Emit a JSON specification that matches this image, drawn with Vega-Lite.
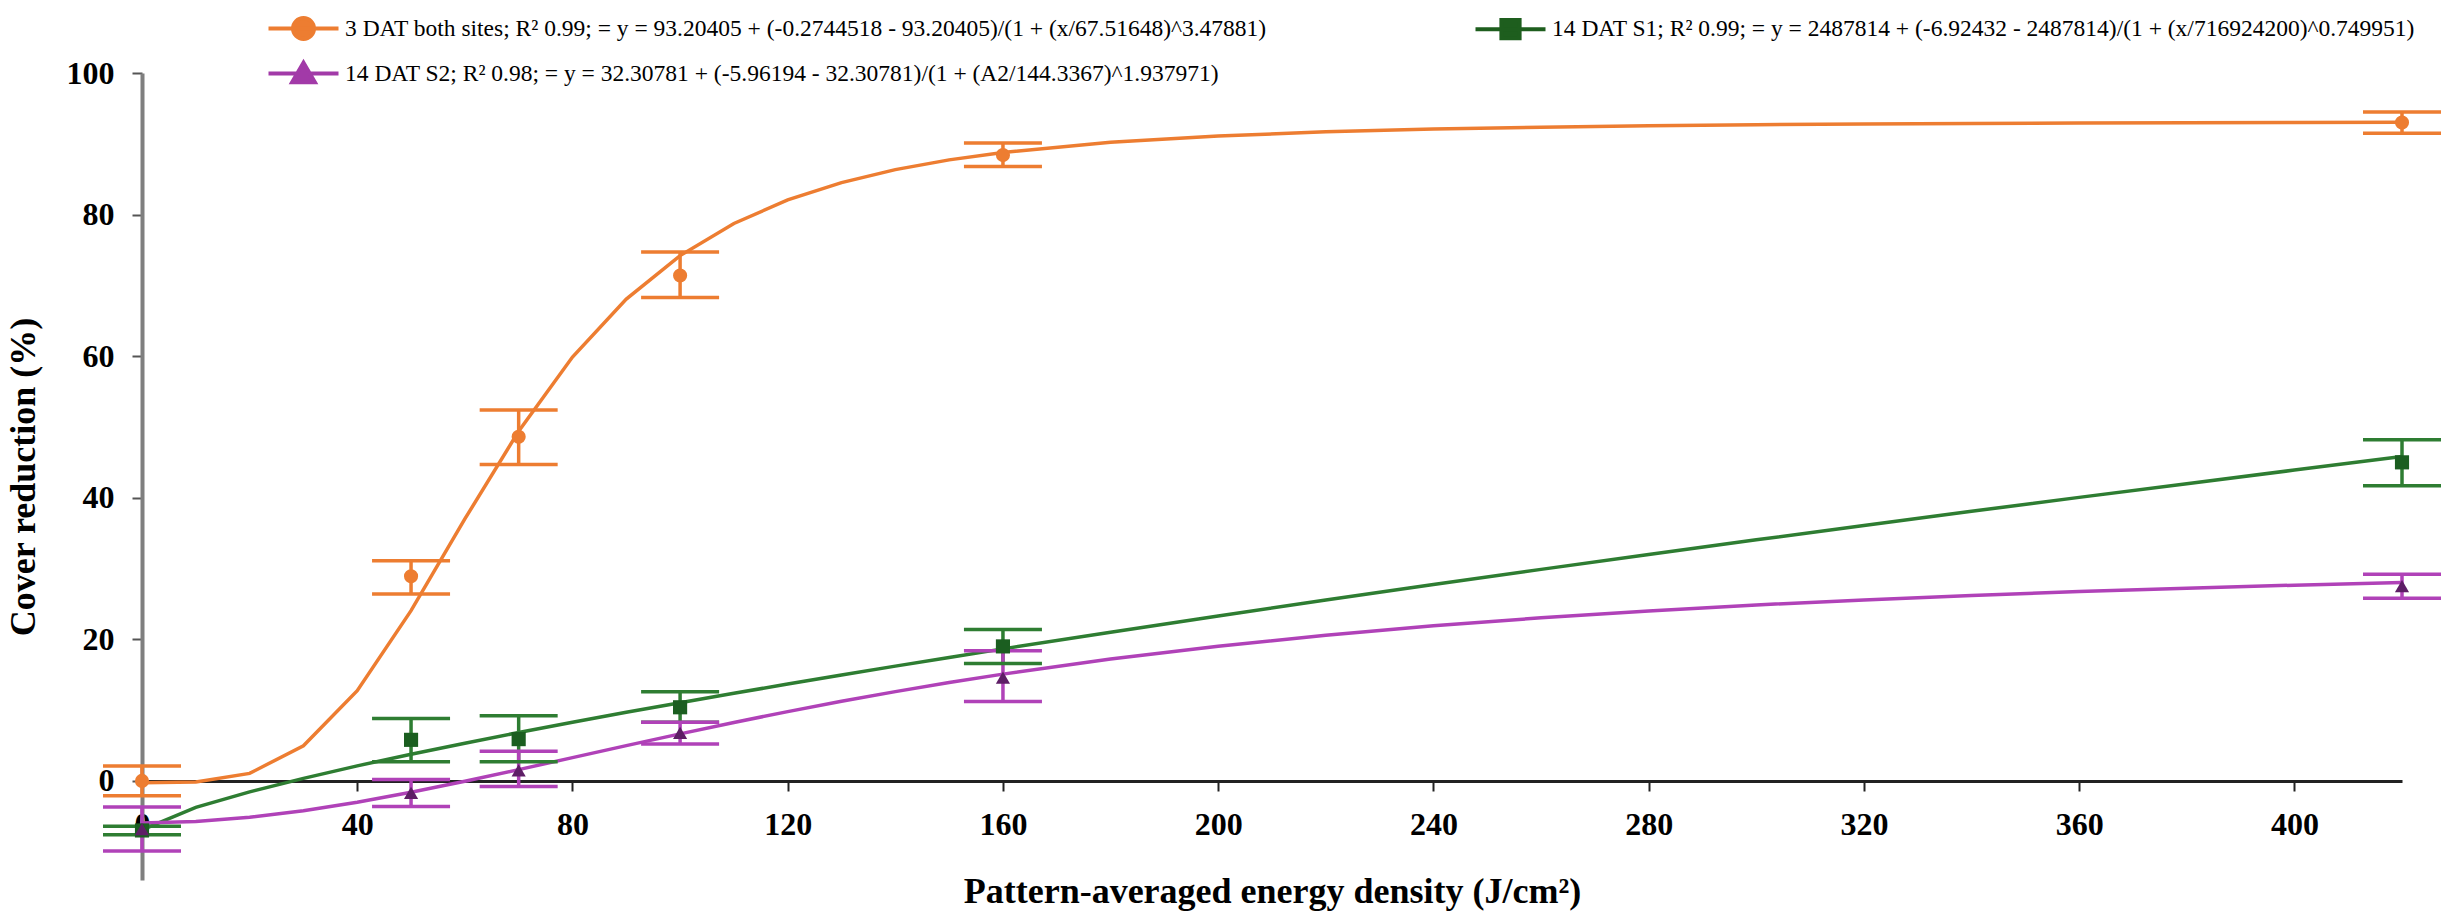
{
  "$schema": "https://vega.github.io/schema/vega-lite/v6.json",
  "width": 2260,
  "height": 807,
  "autosize": "none",
  "padding": {"left": 142, "top": 73, "right": 48, "bottom": 39},
  "background": "white",
  "datasets": {
    "points": [
      {"series": "3 DAT both sites", "x": 0, "y": 0, "lo": -2.1, "hi": 2.1},
      {"series": "3 DAT both sites", "x": 50, "y": 28.9, "lo": 26.4, "hi": 31.1},
      {"series": "3 DAT both sites", "x": 70, "y": 48.6, "lo": 44.7, "hi": 52.4},
      {"series": "3 DAT both sites", "x": 100, "y": 71.4, "lo": 68.3, "hi": 74.7},
      {"series": "3 DAT both sites", "x": 160, "y": 88.4, "lo": 86.8, "hi": 90.1},
      {"series": "3 DAT both sites", "x": 420, "y": 93.0, "lo": 91.5, "hi": 94.5},
      {"series": "14 DAT S1", "x": 0, "y": -7.0, "lo": -7.6, "hi": -6.4},
      {"series": "14 DAT S1", "x": 50, "y": 5.8, "lo": 2.7, "hi": 8.8},
      {"series": "14 DAT S1", "x": 70, "y": 5.9, "lo": 2.7, "hi": 9.2},
      {"series": "14 DAT S1", "x": 100, "y": 10.4, "lo": 8.3, "hi": 12.6},
      {"series": "14 DAT S1", "x": 160, "y": 19.0, "lo": 16.6, "hi": 21.4},
      {"series": "14 DAT S1", "x": 420, "y": 45.0, "lo": 41.7, "hi": 48.2},
      {"series": "14 DAT S2", "x": 0, "y": -6.8, "lo": -9.9, "hi": -3.7},
      {"series": "14 DAT S2", "x": 50, "y": -1.7, "lo": -3.6, "hi": 0.2},
      {"series": "14 DAT S2", "x": 70, "y": 1.5, "lo": -0.8, "hi": 4.2},
      {"series": "14 DAT S2", "x": 100, "y": 6.8, "lo": 5.2, "hi": 8.3},
      {"series": "14 DAT S2", "x": 160, "y": 14.6, "lo": 11.2, "hi": 18.4},
      {"series": "14 DAT S2", "x": 420, "y": 27.5, "lo": 25.8, "hi": 29.2}
    ],
    "curves": [
      {"series": "3 DAT both sites", "x": 0, "y": -0.27},
      {"series": "3 DAT both sites", "x": 10, "y": -0.15},
      {"series": "3 DAT both sites", "x": 20, "y": 1.06},
      {"series": "3 DAT both sites", "x": 30, "y": 4.97},
      {"series": "3 DAT both sites", "x": 40, "y": 12.74},
      {"series": "3 DAT both sites", "x": 50, "y": 24.05},
      {"series": "3 DAT both sites", "x": 60, "y": 37.0},
      {"series": "3 DAT both sites", "x": 70, "y": 49.4},
      {"series": "3 DAT both sites", "x": 80, "y": 59.87},
      {"series": "3 DAT both sites", "x": 90, "y": 68.06},
      {"series": "3 DAT both sites", "x": 100, "y": 74.21},
      {"series": "3 DAT both sites", "x": 110, "y": 78.74},
      {"series": "3 DAT both sites", "x": 120, "y": 82.07},
      {"series": "3 DAT both sites", "x": 130, "y": 84.52},
      {"series": "3 DAT both sites", "x": 140, "y": 86.35},
      {"series": "3 DAT both sites", "x": 150, "y": 87.73},
      {"series": "3 DAT both sites", "x": 160, "y": 88.78},
      {"series": "3 DAT both sites", "x": 180, "y": 90.22},
      {"series": "3 DAT both sites", "x": 200, "y": 91.11},
      {"series": "3 DAT both sites", "x": 220, "y": 91.69},
      {"series": "3 DAT both sites", "x": 240, "y": 92.08},
      {"series": "3 DAT both sites", "x": 260, "y": 92.35},
      {"series": "3 DAT both sites", "x": 280, "y": 92.55},
      {"series": "3 DAT both sites", "x": 300, "y": 92.69},
      {"series": "3 DAT both sites", "x": 320, "y": 92.79},
      {"series": "3 DAT both sites", "x": 340, "y": 92.87},
      {"series": "3 DAT both sites", "x": 360, "y": 92.93},
      {"series": "3 DAT both sites", "x": 380, "y": 92.98},
      {"series": "3 DAT both sites", "x": 400, "y": 93.01},
      {"series": "3 DAT both sites", "x": 420, "y": 93.04},
      {"series": "14 DAT S1", "x": 0, "y": -6.92},
      {"series": "14 DAT S1", "x": 10, "y": -3.73},
      {"series": "14 DAT S1", "x": 20, "y": -1.55},
      {"series": "14 DAT S1", "x": 30, "y": 0.36},
      {"series": "14 DAT S1", "x": 40, "y": 2.12},
      {"series": "14 DAT S1", "x": 50, "y": 3.76},
      {"series": "14 DAT S1", "x": 60, "y": 5.33},
      {"series": "14 DAT S1", "x": 70, "y": 6.83},
      {"series": "14 DAT S1", "x": 80, "y": 8.28},
      {"series": "14 DAT S1", "x": 90, "y": 9.69},
      {"series": "14 DAT S1", "x": 100, "y": 11.05},
      {"series": "14 DAT S1", "x": 110, "y": 12.38},
      {"series": "14 DAT S1", "x": 120, "y": 13.68},
      {"series": "14 DAT S1", "x": 130, "y": 14.96},
      {"series": "14 DAT S1", "x": 140, "y": 16.21},
      {"series": "14 DAT S1", "x": 150, "y": 17.44},
      {"series": "14 DAT S1", "x": 160, "y": 18.65},
      {"series": "14 DAT S1", "x": 180, "y": 21.01},
      {"series": "14 DAT S1", "x": 200, "y": 23.3},
      {"series": "14 DAT S1", "x": 220, "y": 25.54},
      {"series": "14 DAT S1", "x": 240, "y": 27.73},
      {"series": "14 DAT S1", "x": 260, "y": 29.88},
      {"series": "14 DAT S1", "x": 280, "y": 31.98},
      {"series": "14 DAT S1", "x": 300, "y": 34.05},
      {"series": "14 DAT S1", "x": 320, "y": 36.08},
      {"series": "14 DAT S1", "x": 340, "y": 38.08},
      {"series": "14 DAT S1", "x": 360, "y": 40.05},
      {"series": "14 DAT S1", "x": 380, "y": 41.99},
      {"series": "14 DAT S1", "x": 400, "y": 43.91},
      {"series": "14 DAT S1", "x": 420, "y": 45.81},
      {"series": "14 DAT S2", "x": 0, "y": -5.96},
      {"series": "14 DAT S2", "x": 10, "y": -5.75},
      {"series": "14 DAT S2", "x": 20, "y": -5.15},
      {"series": "14 DAT S2", "x": 30, "y": -4.22},
      {"series": "14 DAT S2", "x": 40, "y": -3.02},
      {"series": "14 DAT S2", "x": 50, "y": -1.61},
      {"series": "14 DAT S2", "x": 60, "y": -0.06},
      {"series": "14 DAT S2", "x": 70, "y": 1.59},
      {"series": "14 DAT S2", "x": 80, "y": 3.29},
      {"series": "14 DAT S2", "x": 90, "y": 4.98},
      {"series": "14 DAT S2", "x": 100, "y": 6.64},
      {"series": "14 DAT S2", "x": 110, "y": 8.25},
      {"series": "14 DAT S2", "x": 120, "y": 9.79},
      {"series": "14 DAT S2", "x": 130, "y": 11.24},
      {"series": "14 DAT S2", "x": 140, "y": 12.61},
      {"series": "14 DAT S2", "x": 150, "y": 13.89},
      {"series": "14 DAT S2", "x": 160, "y": 15.08},
      {"series": "14 DAT S2", "x": 180, "y": 17.21},
      {"series": "14 DAT S2", "x": 200, "y": 19.03},
      {"series": "14 DAT S2", "x": 220, "y": 20.58},
      {"series": "14 DAT S2", "x": 240, "y": 21.91},
      {"series": "14 DAT S2", "x": 260, "y": 23.04},
      {"series": "14 DAT S2", "x": 280, "y": 24.01},
      {"series": "14 DAT S2", "x": 300, "y": 24.85},
      {"series": "14 DAT S2", "x": 320, "y": 25.57},
      {"series": "14 DAT S2", "x": 340, "y": 26.2},
      {"series": "14 DAT S2", "x": 360, "y": 26.74},
      {"series": "14 DAT S2", "x": 380, "y": 27.22},
      {"series": "14 DAT S2", "x": 400, "y": 27.65},
      {"series": "14 DAT S2", "x": 420, "y": 28.02}
    ]
  },
  "encoding": {
    "x": {
      "field": "x", "type": "quantitative",
      "scale": {"domain": [0, 420], "nice": false, "zero": false},
      "axis": {
        "title": "Pattern-averaged energy density (J/cm²)",
        "values": [0, 40, 80, 120, 160, 200, 240, 280, 320, 360, 400],
        "offset": -99,
        "grid": false,
        "labelFlush": false,
        "labelFont": "Liberation Serif", "labelFontSize": 32, "labelFontWeight": "bold", "labelColor": "#000",
        "labelPadding": 18,
        "tickSize": 10, "tickWidth": 2, "tickColor": "#222",
        "domainColor": "#222", "domainWidth": 3,
        "titleFont": "Liberation Serif", "titleFontSize": 36, "titleFontWeight": "bold", "titleColor": "#000",
        "titlePadding": 34
      }
    },
    "y": {
      "field": "y", "type": "quantitative",
      "scale": {"domain": [-14, 100], "nice": false, "zero": false},
      "axis": {
        "title": "Cover reduction (%)",
        "values": [0, 20, 40, 60, 80, 100],
        "grid": false,
        "labelFont": "Liberation Serif", "labelFontSize": 32, "labelFontWeight": "bold", "labelColor": "#000",
        "labelPadding": 18,
        "tickSize": 10, "tickWidth": 2, "tickColor": "#555",
        "domainColor": "#7f7f7f", "domainWidth": 4,
        "titleFont": "Liberation Serif", "titleFontSize": 36, "titleFontWeight": "bold", "titleColor": "#000",
        "titlePadding": 24
      }
    }
  },
  "layer": [
    {
      "data": {"name": "curves"},
      "mark": {"type": "line", "strokeWidth": 3.5},
      "encoding": {
        "color": {"field": "series", "type": "nominal", "legend": null,
          "scale": {"domain": ["3 DAT both sites", "14 DAT S1", "14 DAT S2"], "range": ["#ED7D31", "#2E7D32", "#B042B8"]}}
      }
    },
    {
      "data": {"name": "points"},
      "mark": {"type": "rule", "strokeWidth": 3.5, "opacity": 1},
      "encoding": {
        "y": {"field": "lo", "type": "quantitative"},
        "y2": {"field": "hi"},
        "color": {"field": "series", "type": "nominal", "legend": null}
      }
    },
    {
      "data": {"name": "points"},
      "mark": {"type": "tick", "orient": "horizontal", "size": 78, "thickness": 3.5, "opacity": 1},
      "encoding": {
        "y": {"field": "lo", "type": "quantitative"},
        "color": {"field": "series", "type": "nominal", "legend": null}
      }
    },
    {
      "data": {"name": "points"},
      "mark": {"type": "tick", "orient": "horizontal", "size": 78, "thickness": 3.5, "opacity": 1},
      "encoding": {
        "y": {"field": "hi", "type": "quantitative"},
        "color": {"field": "series", "type": "nominal", "legend": null}
      }
    },
    {
      "data": {"name": "points"},
      "mark": {"type": "point", "filled": true, "opacity": 1, "size": 200},
      "encoding": {
        "fill": {"field": "series", "type": "nominal", "legend": null,
          "scale": {"domain": ["3 DAT both sites", "14 DAT S1", "14 DAT S2"], "range": ["#ED7D31", "#1B5E20", "#5E1E66"]}},
        "shape": {"field": "series", "type": "nominal", "legend": null,
          "scale": {"domain": ["3 DAT both sites", "14 DAT S1", "14 DAT S2"], "range": ["circle", "square", "triangle-up"]}}
      }
    },
    {
      "data": {"name": "points"},
      "transform": [{"filter": "false"}],
      "mark": {"type": "point", "filled": true, "opacity": 1, "strokeWidth": 4},
      "encoding": {
        "fill": {"field": "series", "type": "nominal",
          "scale": {"domain": ["3 DAT both sites", "14 DAT S1", "14 DAT S2"], "range": ["#ED7D31", "#1E5E1E", "#A23AA8"]},
          "legend": {"direction": "horizontal", "labelExpr": "datum.label == '3 DAT both sites' ? '3 DAT both sites; R² 0.99; = y = 93.20405 + (-0.2744518 - 93.20405)/(1 + (x/67.51648)^3.47881)' : datum.label == '14 DAT S1' ? '14 DAT S1; R² 0.99; = y = 2487814 + (-6.92432 - 2487814)/(1 + (x/716924200)^0.749951)' : '14 DAT S2; R² 0.98; = y = 32.30781 + (-5.96194 - 32.30781)/(1 + (A2/144.3367)^1.937971)'"}},
        "stroke": {"field": "series", "type": "nominal",
          "scale": {"domain": ["3 DAT both sites", "14 DAT S1", "14 DAT S2"], "range": ["#ED7D31", "#1E5E1E", "#A23AA8"]},
          "legend": {"direction": "horizontal", "labelExpr": "datum.label == '3 DAT both sites' ? '3 DAT both sites; R² 0.99; = y = 93.20405 + (-0.2744518 - 93.20405)/(1 + (x/67.51648)^3.47881)' : datum.label == '14 DAT S1' ? '14 DAT S1; R² 0.99; = y = 2487814 + (-6.92432 - 2487814)/(1 + (x/716924200)^0.749951)' : '14 DAT S2; R² 0.98; = y = 32.30781 + (-5.96194 - 32.30781)/(1 + (A2/144.3367)^1.937971)'"}},
        "shape": {"field": "series", "type": "nominal",
          "scale": {"domain": ["3 DAT both sites", "14 DAT S1", "14 DAT S2"], "range": [
            "M-2,0H2M-0.6,0A0.6,0.6 0 1,0 0.6,0A0.6,0.6 0 1,0 -0.6,0Z",
            "M-2,0H2M-0.52,-0.52H0.52V0.52H-0.52Z",
            "M-2,0H2M0,-0.62L0.65,0.5H-0.65Z"]},
          "legend": {"direction": "horizontal", "labelExpr": "datum.label == '3 DAT both sites' ? '3 DAT both sites; R² 0.99; = y = 93.20405 + (-0.2744518 - 93.20405)/(1 + (x/67.51648)^3.47881)' : datum.label == '14 DAT S1' ? '14 DAT S1; R² 0.99; = y = 2487814 + (-6.92432 - 2487814)/(1 + (x/716924200)^0.749951)' : '14 DAT S2; R² 0.98; = y = 32.30781 + (-5.96194 - 32.30781)/(1 + (A2/144.3367)^1.937971)'"}}
      }
    }
  ],
  "resolve": {"scale": {"fill": "independent", "shape": "independent", "stroke": "independent"}},
  "config": {
    "view": {"stroke": null},
    "legend": {
      "orient": "none",
      "direction": "horizontal",
      "legendX": 142,
      "legendY": -64,
      "columns": 2,
      "columnPadding": 200,
      "rowPadding": 7,
      "padding": 0,
      "title": null,
      "symbolSize": 1225,
      "symbolStrokeWidth": 4,
      "symbolOpacity": 1,
      "labelOffset": 22,
      "labelLimit": 3000,
      "labelFont": "Liberation Serif",
      "labelFontSize": 23.5,
      "labelColor": "#000"
    }
  }
}
